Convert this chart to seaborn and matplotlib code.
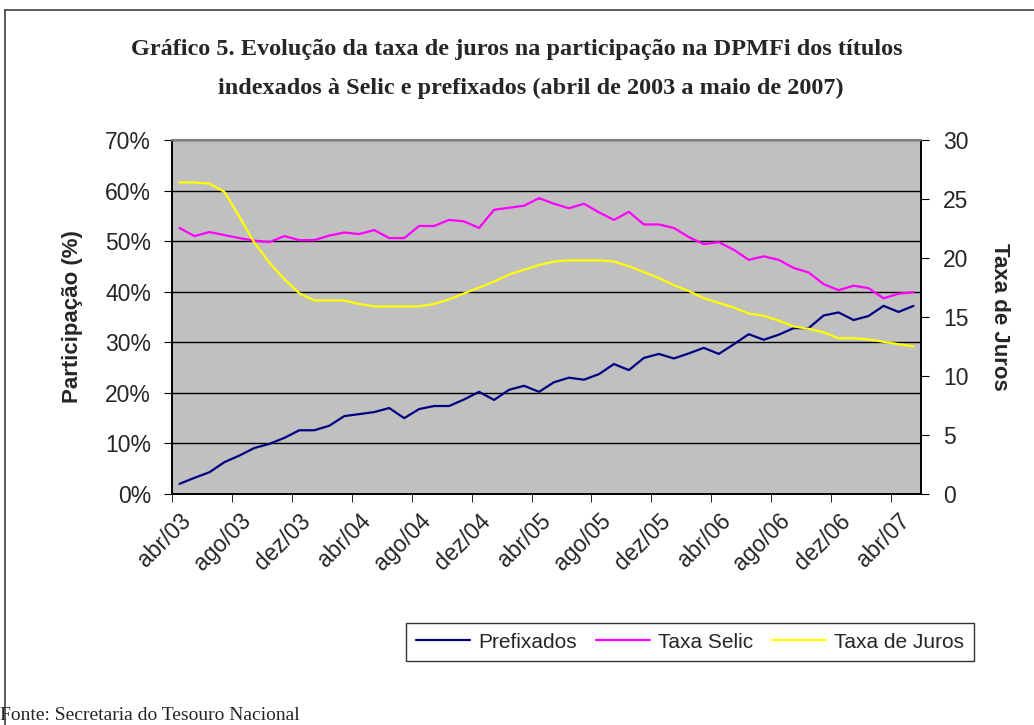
import numpy as np
import pandas as pd
import matplotlib.pyplot as plt
import matplotlib.ticker as mticker
from matplotlib.lines import Line2D
import seaborn as sns

# -------------------------------
# Data, abr/03 .. mai/07
# -------------------------------
meses_pt = ['jan', 'fev', 'mar', 'abr', 'mai', 'jun',
            'jul', 'ago', 'set', 'out', 'nov', 'dez']
rotulos = []
for k in range(50):
    m = (3 + k) % 12
    a = 3 + (3 + k) // 12
    rotulos.append(f"{meses_pt[m]}/{a:02d}")

# participação dos títulos prefixados (%)
prefixados = [2.0, 3.2, 4.3, 6.3, 7.6, 9.1, 9.9, 11.1,
              12.6, 12.6, 13.5, 15.4, 15.8, 16.2, 17.0, 15.0,
              16.8, 17.4, 17.4, 18.7, 20.2, 18.6, 20.6, 21.4,
              20.2, 22.1, 23.0, 22.6, 23.7, 25.7, 24.5, 26.9,
              27.7, 26.8, 27.8, 28.9, 27.7, 29.6, 31.6, 30.5,
              31.5, 32.8, 32.8, 35.3, 35.9, 34.4, 35.2, 37.2, 36.0, 37.2]

# participação dos títulos indexados à Selic (%)
selic = [52.6, 51.0, 51.8, 51.2, 50.6, 50.1, 49.8, 51.0,
         50.2, 50.2, 51.1, 51.7, 51.4, 52.2, 50.6, 50.6,
         53.0, 53.0, 54.2, 53.9, 52.6, 56.2, 56.6, 57.0,
         58.5, 57.4, 56.5, 57.4, 55.7, 54.2, 55.8, 53.3,
         53.3, 52.6, 50.8, 49.4, 49.8, 48.3, 46.3, 47.0,
         46.3, 44.7, 43.8, 41.5, 40.3, 41.2, 40.7, 38.7, 39.6, 39.9]

# taxa de juros (eixo da direita)
taxa_juros = [26.4, 26.4, 26.3, 25.6, 23.5, 21.3, 19.6, 18.2,
              17.0, 16.4, 16.4, 16.4, 16.1, 15.9, 15.9, 15.9,
              15.9, 16.1, 16.5, 17.0, 17.5, 18.0, 18.6, 19.0,
              19.4, 19.7, 19.8, 19.8, 19.8, 19.7, 19.3, 18.8,
              18.3, 17.7, 17.2, 16.6, 16.2, 15.8, 15.3, 15.1,
              14.7, 14.2, 14.0, 13.7, 13.2, 13.2, 13.1, 12.9, 12.7, 12.5]

df = pd.DataFrame({
    'pos': np.arange(len(rotulos)),
    'Prefixados': np.array(prefixados) / 100,
    'Taxa Selic': np.array(selic) / 100,
    'Taxa de Juros': taxa_juros,
})

# -------------------------------
# Figure
# -------------------------------
sns.set_style('white')
plt.rcParams['font.family'] = ['Liberation Sans', 'DejaVu Sans']

fig = plt.figure(figsize=(10.34, 7.25), dpi=100)
ax = fig.add_axes([172 / 1034, 1 - 494 / 725, 749 / 1034, 354 / 725])
ax2 = ax.twinx()

ax.set_facecolor('#C0C0C0')
ax.set_axisbelow(True)

sns.lineplot(data=df, x='pos', y='Prefixados', ax=ax, color='#000080', lw=1.6)
sns.lineplot(data=df, x='pos', y='Taxa Selic', ax=ax, color='#FF00FF', lw=1.6)
sns.lineplot(data=df, x='pos', y='Taxa de Juros', ax=ax2, color='#FFFF00', lw=1.6)

# left axis
ax.set_ylim(0, 0.70)
ax.yaxis.set_major_locator(mticker.MultipleLocator(0.10))
ax.yaxis.set_major_formatter(mticker.PercentFormatter(1.0, decimals=0))
ax.yaxis.grid(True, color='black', lw=1)
ax.xaxis.grid(False)
ax.set_ylabel('Participação (%)', fontsize=16, fontweight='bold', labelpad=16)
ax.tick_params(axis='y', labelsize=16.5, length=6, direction='out', color='black',
               left=True, pad=9)

# right axis
ax2.set_ylim(0, 30)
ax2.yaxis.set_major_locator(mticker.MultipleLocator(5))
ax2.set_ylabel('Taxa de Juros', fontsize=16, fontweight='bold', rotation=270, labelpad=30)
ax2.tick_params(axis='y', labelsize=16.5, length=6, direction='out', color='black',
                right=True, pad=10)
ax2.grid(False)

# x axis: labels every 4 months, ticks at category boundaries
ax.set_xlim(-0.5, len(rotulos) - 0.5)
pos_lab = list(range(0, len(rotulos), 4))
ax.set_xticks(pos_lab)
ax.set_xticklabels([rotulos[i] for i in pos_lab], rotation=45, ha='right',
                   rotation_mode='anchor', fontsize=16.5)
ax.set_xticks([i - 0.5 for i in pos_lab], minor=True)
ax.tick_params(axis='x', which='major', length=0, pad=11)
ax.tick_params(axis='x', which='minor', length=6, direction='out', color='black', bottom=True)
ax.set_xlabel('')

for a in (ax, ax2):
    for s in ('left', 'right', 'bottom'):
        a.spines[s].set_color('black')
        a.spines[s].set_linewidth(1.2)
    a.spines['top'].set_color('#808080')
    a.spines['top'].set_linewidth(1.5)

# legend
handles = [Line2D([], [], color='#000080', lw=1.6),
           Line2D([], [], color='#FF00FF', lw=1.6),
           Line2D([], [], color='#FFFF00', lw=1.6)]
leg = fig.legend(handles, ['Prefixados', 'Taxa Selic', 'Taxa de Juros'],
                 loc='center', bbox_to_anchor=(690 / 1034, 1 - 642 / 725),
                 ncol=3, fontsize=15, frameon=True, fancybox=False,
                 handlelength=2.6, columnspacing=0.9, handletextpad=0.4,
                 borderpad=0.45)
leg.get_frame().set_edgecolor('black')
leg.get_frame().set_linewidth(1.0)

# title
fig.text(517 / 1034, 1 - 50 / 725,
         'Gráfico 5. Evolução da taxa de juros na participação na DPMFi dos títulos',
         ha='center', va='center', fontsize=17.5, fontweight='bold', family='Liberation Serif')
fig.text(531 / 1034, 1 - 88 / 725,
         'indexados à Selic e prefixados (abril de 2003 a maio de 2007)',
         ha='center', va='center', fontsize=17.5, fontweight='bold', family='Liberation Serif')

# source
fig.text(0, 1 - 715 / 725, 'Fonte: Secretaria do Tesouro Nacional',
         ha='left', va='center', fontsize=14, family='Liberation Serif')

# outer frame of the chart
fig.add_artist(Line2D([5 / 1034, 5 / 1034], [0, 1 - 10 / 725], color='#404040', lw=1.2))
fig.add_artist(Line2D([5 / 1034, 1], [1 - 10 / 725, 1 - 10 / 725], color='#404040', lw=1.2))

fig.savefig('out.png', dpi=100)
